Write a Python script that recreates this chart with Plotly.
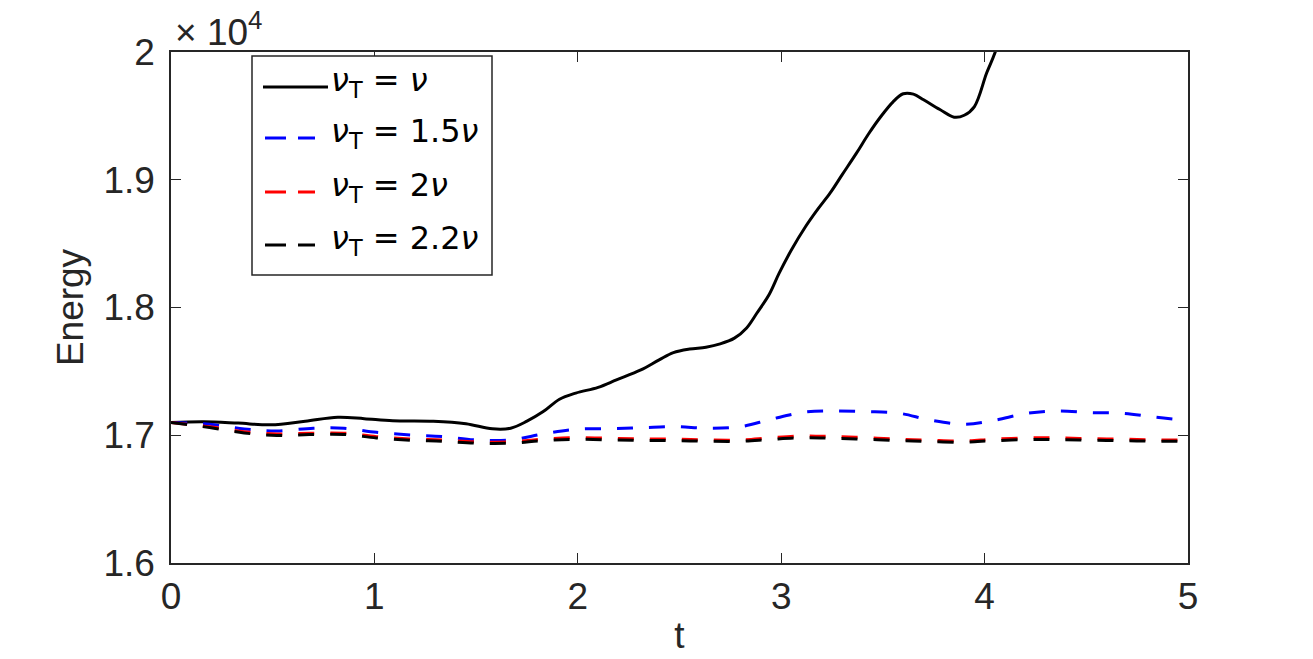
import plotly.graph_objects as go

# time samples (t) and energies
t_nu = [0.0, 0.16, 0.33, 0.49, 0.66, 0.82, 0.95, 1.09, 1.29, 1.45, 1.58, 1.67, 1.75, 1.83, 1.91, 1.99,
        2.10, 2.19, 2.31, 2.40, 2.47, 2.55, 2.63, 2.70, 2.77, 2.83, 2.88, 2.94, 2.99, 3.05, 3.12,
        3.18, 3.24, 3.30, 3.37, 3.43, 3.49, 3.55, 3.60, 3.65, 3.70, 3.78, 3.85, 3.90, 3.95, 4.01, 4.05, 4.10]
e_nu = [17100, 17106, 17095, 17082, 17110, 17141, 17130, 17114, 17110, 17090, 17050, 17055, 17110, 17185, 17282, 17330,
        17375, 17433, 17511, 17590, 17647, 17675, 17689, 17715, 17760, 17840, 17955, 18100, 18269, 18450, 18634,
        18770, 18895, 19040, 19208, 19360, 19495, 19610, 19673, 19670, 19626, 19550, 19490, 19505, 19573, 19835, 19990, 20250]

t_15 = [0.0, 0.19, 0.36, 0.52, 0.70, 0.85, 1.01, 1.18, 1.34, 1.50, 1.67, 1.83, 1.99, 2.16, 2.32, 2.48,
        2.64, 2.80, 2.95, 3.11, 3.26, 3.42, 3.58, 3.73, 3.90, 4.04, 4.21, 4.36, 4.52, 4.68, 4.84, 5.0]
e_15 = [17100, 17086, 17049, 17034, 17055, 17055, 17023, 17002, 16989, 16963, 16963, 17010, 17047, 17052, 17060, 17067,
        17055, 17067, 17125, 17180, 17190, 17185, 17172, 17120, 17086, 17114, 17172, 17190, 17177, 17172, 17141, 17115]

t_2 = [0.0, 0.19, 0.36, 0.52, 0.68, 0.85, 1.01, 1.18, 1.34, 1.50, 1.67, 1.83, 1.99, 2.16, 2.32, 2.48,
       2.64, 2.80, 2.95, 3.11, 3.26, 3.42, 3.58, 3.73, 3.90, 4.04, 4.21, 4.36, 4.52, 4.68, 4.84, 5.0]
e_2 = [17100, 17067, 17028, 17010, 17016, 17016, 16989, 16971, 16963, 16948, 16948, 16969, 16981, 16976, 16971, 16969,
       16963, 16963, 16981, 16995, 16989, 16981, 16969, 16961, 16955, 16969, 16979, 16979, 16973, 16969, 16963, 16962]

t_22 = t_2
e_22 = [17100, 17060, 17018, 16998, 17005, 17006, 16979, 16961, 16953, 16938, 16938, 16958, 16968, 16964, 16960, 16958,
        16953, 16953, 16968, 16980, 16976, 16968, 16958, 16951, 16946, 16957, 16966, 16966, 16961, 16958, 16953, 16952]

names = ["<i>ν</i><sub>T</sub> = <i>ν</i>", "<i>ν</i><sub>T</sub> = 1.5<i>ν</i>",
         "<i>ν</i><sub>T</sub> = 2<i>ν</i>", "<i>ν</i><sub>T</sub> = 2.2<i>ν</i>"]
colors = ["black", "#0000ff", "#ff0000", "black"]
dashes = ["solid", "16px,16px", "16px,16px", "16px,16px"]

xticks = [0, 1, 2, 3, 4, 5]
yticks = [16000, 17000, 18000, 19000, 20000]
yticklabels = ["1.6", "1.7", "1.8", "1.9", "2"]

FONT = "Liberation Sans, Arial, sans-serif"
LEGFONT = "DejaVu Sans, sans-serif"
AX = "#262626"
W, H = 1313, 659
L, R, T, B = 171, 125, 52, 96
PW, PH = W - L - R, H - T - B


def px(x):  # pixel -> paper x
    return (x - L) / PW


def py(y):  # pixel -> paper y
    return (H - B - y) / PH


fig = go.Figure()
for tx, ey, nm, c, d in zip([t_nu, t_15, t_2, t_22], [e_nu, e_15, e_2, e_22], names, colors, dashes):
    fig.add_trace(go.Scatter(x=tx, y=ey, mode="lines", name=nm, showlegend=False,
                             line=dict(color=c, width=3, dash=d, shape="spline")))

# custom legend (box, line samples, labels)
shapes = [dict(type="rect", xref="paper", yref="paper", x0=px(252), x1=px(492), y0=py(275), y1=py(56),
               line=dict(color=AX, width=1.5), fillcolor="white", layer="above")]
annotations = []
row_y = [87, 138, 192, 245]
leg_dash = ["solid", "21px,12px", "21px,12px", "21px,12px"]
for i, (nm, c) in enumerate(zip(names, colors)):
    shapes.append(dict(type="line", xref="paper", yref="paper", x0=px(263) if i == 0 else px(265),
                       x1=px(328) if i == 0 else px(315),
                       y0=py(row_y[i]), y1=py(row_y[i]), line=dict(color=c, width=3, dash=leg_dash[i]),
                       layer="above"))
    annotations.append(dict(text=nm, xref="paper", yref="paper", x=px(329), y=py(row_y[i] - 5),
                            xanchor="left", yanchor="middle", showarrow=False,
                            font=dict(size=32, color="black", family=LEGFONT)))

annotations.append(dict(text="× 10<sup>4</sup>", xref="paper", yref="paper",
                        x=px(173), y=py(55), xanchor="left", yanchor="bottom", showarrow=False,
                        font=dict(size=37, color=AX, family=FONT)))

fig.update_layout(
    width=W, height=H,
    margin=dict(l=L, r=R, t=T, b=B, autoexpand=False),
    paper_bgcolor="white", plot_bgcolor="white",
    font=dict(family=FONT, size=37, color=AX),
    showlegend=False,
    xaxis=dict(range=[0, 5], tickvals=xticks, ticks="inside", ticklen=10, tickcolor=AX,
               showline=True, linecolor=AX, linewidth=1.5, mirror="ticks",
               showgrid=False, zeroline=False, ticklabelstandoff=0, automargin=False,
               tickfont=dict(size=37),
               title=dict(text="t", standoff=6, font=dict(size=37))),
    yaxis=dict(range=[16000, 20000], tickvals=yticks, ticktext=yticklabels,
               ticks="inside", ticklen=10, tickcolor=AX,
               showline=True, linecolor=AX, linewidth=1.5, mirror="ticks",
               showgrid=False, zeroline=False, ticklabelstandoff=7, automargin=False,
               tickfont=dict(size=37),
               title=dict(text="Energy", standoff=8, font=dict(size=37))),
    shapes=shapes,
    annotations=annotations,
)

fig.write_html("out.html")
